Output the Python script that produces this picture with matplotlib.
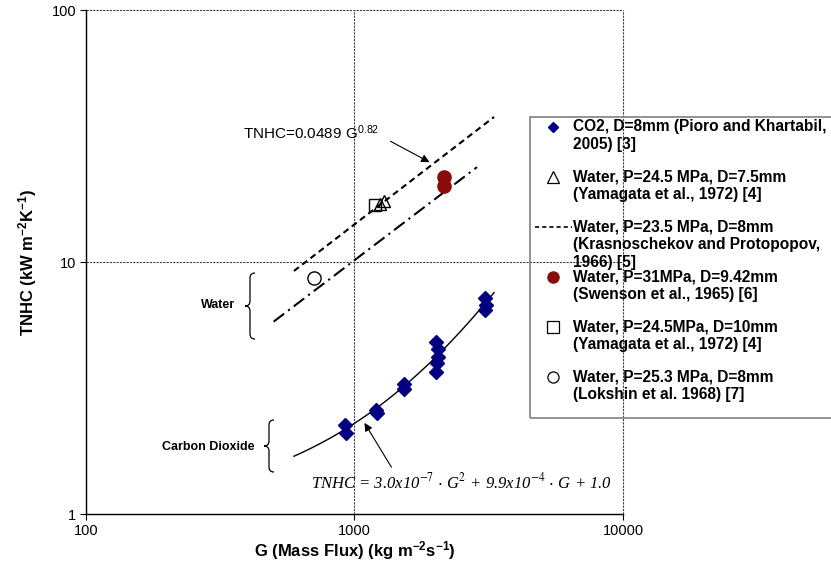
import numpy as np
import matplotlib
matplotlib.use('Agg')
import matplotlib.pyplot as plt
from matplotlib.lines import Line2D
from matplotlib.patches import Rectangle, PathPatch
from matplotlib.path import Path

plt.rcParams['font.family'] = ['Liberation Sans', 'DejaVu Sans']
plt.rcParams['mathtext.fontset'] = 'custom'
plt.rcParams['mathtext.rm'] = 'Liberation Sans'
plt.rcParams['mathtext.bf'] = 'Liberation Sans:bold'
plt.rcParams['mathtext.it'] = 'Liberation Sans:italic'

# CO2 data (Pioro and Khartabil, 2005)
co2_G = [925, 930, 1205, 1215, 1525, 1530, 2020, 2050, 2040, 2030, 2010, 3060, 3100, 3070]
co2_T = [2.26, 2.10, 2.58, 2.52, 3.28, 3.12, 4.80, 4.50, 4.18, 3.98, 3.66, 7.20, 6.78, 6.45]

# water data
tri_G = [1244, 1288]
tri_T = [17.0, 17.5]
red_G = [2156, 2156]
red_T = [21.7, 20.0]
sq_G = [1192]
sq_T = [16.8]
circ_G = [706]
circ_T = [8.64]

# correlations
krasn_coef = [0.0489, 0.82]          # TNHC = a * G^b
krasn_range = [595, 3310]
co2_coef = [3.0e-7, 9.9e-4, 1.0]     # quadratic in G
co2_range = [595, 3310]
dashdot_G = [500, 2860]
dashdot_T = [5.8, 23.8]

legend_labels = [
    'CO2, D=8mm (Pioro and Khartabil,\n2005) [3]',
    'Water, P=24.5 MPa, D=7.5mm\n(Yamagata et al., 1972) [4]',
    'Water, P=23.5 MPa, D=8mm\n(Krasnoschekov and Protopopov,\n1966) [5]',
    'Water, P=31MPa, D=9.42mm\n(Swenson et al., 1965) [6]',
    'Water, P=24.5MPa, D=10mm\n(Yamagata et al., 1972) [4]',
    'Water, P=25.3 MPa, D=8mm\n(Lokshin et al. 1968) [7]',
]

W, H = 831, 566
fig = plt.figure(figsize=(W / 100, H / 100), dpi=100)
ax = fig.add_axes([86 / W, 1 - 514 / H, (623 - 86) / W, (514 - 10) / H])


def fx(x):
    return x / W


def fy(y):
    return 1 - y / H


navy = '#000080'
darkred = '#8B0A0A'

G = np.geomspace(krasn_range[0], krasn_range[1], 50)
ax.plot(G, krasn_coef[0] * G ** krasn_coef[1], color='black', lw=1.5, dashes=[3, 2])
ax.plot(dashdot_G, dashdot_T, color='black', lw=1.5, dashes=[6.3, 2.4, 1, 2.4])
G = np.geomspace(co2_range[0], co2_range[1], 100)
ax.plot(G, np.polyval(co2_coef, G), color='black', lw=1)

ax.plot(co2_G, co2_T, 'D', color=navy, ms=7.5, mec=navy, ls='none')
ax.plot(sq_G, sq_T, 's', mfc='none', mec='black', ms=8.5, mew=1, ls='none')
ax.plot(tri_G, tri_T, '^', mfc='none', mec='black', ms=9, mew=1, ls='none')
ax.plot(red_G, red_T, 'o', color=darkred, ms=9.5, ls='none')
ax.plot(circ_G, circ_T, 'o', mfc='white', mec='black', ms=9.5, mew=1, ls='none')

ax.set_xscale('log')
ax.set_yscale('log')
ax.set_xlim(100, 10000)
ax.set_ylim(1, 100)
ax.set_xticks([100, 1000, 10000])
ax.set_xticklabels(['100', '1000', '10000'])
ax.set_yticks([1, 10, 100])
ax.set_yticklabels(['1', '10', '100'])
ax.minorticks_off()
ax.tick_params(labelsize=10.5, length=4, width=0.8, pad=3)
ax.grid(True, color='#404040', ls=(0, (2, 1)), lw=0.8)
for gl in ax.get_xgridlines() + ax.get_ygridlines():
    gl.set_clip_on(False)
for s in ['top', 'right']:
    ax.spines[s].set_visible(False)
for s in ['left', 'bottom']:
    ax.spines[s].set_color('black')
    ax.spines[s].set_linewidth(1.0)
    ax.spines[s].set_zorder(3)

ax.set_xlabel(r'G (Mass Flux) (kg m$^{\mathbf{-2}}$s$^{\mathbf{-1}}$)',
              fontsize=12, fontweight='bold', labelpad=1)
ax.set_ylabel(r'TNHC (kW m$^{\mathbf{-2}}$K$^{\mathbf{-1}}$)',
              fontsize=12, fontweight='bold', labelpad=9)

# annotations
ax.annotate('TNHC=0.0489 G$^{0.82}$', xy=(1944, 24.5), xytext=(385, 32.5),
            fontsize=11, va='center', ha='left')
ax.annotate('', xy=(1944, 24.6), xytext=(1333, 30.5),
            arrowprops=dict(arrowstyle='-|>', color='black', lw=0.8, mutation_scale=12))
ax.annotate('', xy=(1076, 2.35), xytext=(1390, 1.5),
            arrowprops=dict(arrowstyle='-|>', color='black', lw=0.8, mutation_scale=12))
ax.text(2512, 1.33, r'TNHC = 3.0x10$^{\mathit{-7}}$ $\cdot$ G$^{\mathit{2}}$ + 9.9x10$^{\mathit{-4}}$ $\cdot$ G + 1.0',
        ha='center', va='center', fontsize=12, family='Liberation Serif',
        style='italic', math_fontfamily='stix')
ax.text(359, 6.75, 'Water', ha='right', va='center', fontsize=9, fontweight='bold')
ax.text(426, 1.845, 'Carbon Dioxide', ha='right', va='center', fontsize=9, fontweight='bold')


def brace(xc, y0, y1, w):
    ym = (y0 + y1) / 2
    xr, xl, r = xc + w / 2, xc - w / 2, w / 2
    pts = [(xr, y0), (xc, y0), (xc, y0 + r), (xc, ym - r), (xc, ym), (xl, ym),
           (xc, ym), (xc, ym + r), (xc, y1 - r), (xc, y1), (xr, y1)]
    codes = [Path.MOVETO, Path.CURVE3, Path.CURVE3, Path.LINETO, Path.CURVE3, Path.CURVE3,
             Path.CURVE3, Path.CURVE3, Path.LINETO, Path.CURVE3, Path.CURVE3]
    verts = [(fx(x), fy(y)) for x, y in pts]
    fig.add_artist(PathPatch(Path(verts, codes), fill=False, lw=0.9, ec='black',
                             transform=fig.transFigure))


brace(250, 273, 339, 10)
brace(269, 420, 472, 10)

# legend drawn by hand
fig.add_artist(Rectangle((fx(530), fy(418)), fx(840) - fx(530), fy(117) - fy(418),
                         transform=fig.transFigure, fill=False, ec='#808080', lw=1.2))
handles = [
    dict(marker='D', color=navy, mec=navy, ms=5, ls='none'),
    dict(marker='^', mfc='none', mec='black', ms=8, mew=0.9, ls='none'),
    None,
    dict(marker='o', color=darkred, ms=8, ls='none'),
    dict(marker='s', mfc='none', mec='black', ms=8, mew=0.9, ls='none'),
    dict(marker='o', mfc='none', mec='black', ms=8, mew=0.9, ls='none'),
]
for i, (lab, h) in enumerate(zip(legend_labels, handles)):
    y = 127 + 50 * i
    if h is None:
        fig.add_artist(Line2D([fx(535), fx(572)], [fy(y), fy(y)], color='black',
                              lw=1.2, dashes=[2.5, 1.8], transform=fig.transFigure))
    else:
        fig.add_artist(Line2D([fx(553)], [fy(y)], transform=fig.transFigure, **h))
    for j, line in enumerate(lab.split('\n')):
        fig.text(fx(573), fy(y + 18 * j), line, fontsize=11.2, fontweight='bold',
                 ha='left', va='center')

fig.savefig('out.png', dpi=100)
